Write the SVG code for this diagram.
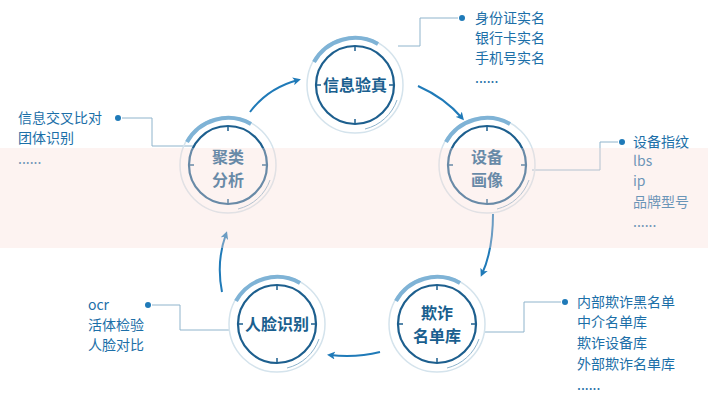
<svg xmlns="http://www.w3.org/2000/svg" width="708" height="400" viewBox="0 0 708 400">
<defs>
<style>
.t{font-family:"Noto Sans CJK SC","Liberation Sans",sans-serif;font-size:14px;fill:#1c6fa8}
.n{font-family:"Noto Sans CJK SC","Liberation Sans",sans-serif;font-size:16px;font-weight:bold;fill:#1a5f8f;text-anchor:middle}
.ln{fill:none;stroke:#8fb4cc;stroke-width:1}
.ar{fill:none;stroke:#1f7ab8;stroke-width:2;marker-end:url(#ah)}
.o{fill:none;stroke:#d4e3ec;stroke-width:1.5}
.m{fill:none;stroke:#1d5f8e;stroke-width:2.2}
.a{fill:none;stroke:#7fb3d6;stroke-width:4}
</style>
<marker id="ah" markerWidth="8" markerHeight="8" refX="5" refY="4" orient="auto" markerUnits="userSpaceOnUse"><path d="M0,0L8,4L0,8L2,4Z" fill="#1f7ab8"/></marker>
<g id="circ">
<circle r="48" class="o" fill="#fff"/>
<path class="a" d="M-41,-23A47,47 0 0 1 23,-41"/>
<path class="ln" d="M10,44A45,45 0 0 0 42,15"/>
<circle r="39" class="m"/>
<path d="M0,-39v5M0,39v-5M-39,0h5M39,0h-5" stroke="#1d5f8e" stroke-width="1.5"/>
</g>
</defs>
<rect width="708" height="400" fill="#fff"/>
<g id="connectors">
<path class="ar" d="M250,112Q268,88 298,80"/>
<path class="ar" d="M418,86Q445,98 462,118"/>
<path class="ar" d="M493,214Q493,250 482,274"/>
<path class="ar" d="M380,352Q356,358 330,355"/>
<path class="ar" d="M222,292Q216,262 226,234"/>
<path class="ln" d="M398,46H420V18H458"/>
<path class="ln" d="M122,118H152V146H195"/>
<path class="ln" d="M618,142H600V170H532"/>
<path class="ln" d="M152,305H180V330H230"/>
<path class="ln" d="M484,332H524V302H561"/>
<g fill="#1f7ab8"><circle cx="462" cy="18" r="3"/><circle cx="118" cy="118" r="3"/><circle cx="622" cy="142" r="3"/><circle cx="148" cy="305" r="3"/><circle cx="565" cy="302" r="3"/></g>
</g>
<g id="n1"><use href="#circ" x="355" y="85"/><text class="n" x="355" y="91">信息验真</text></g>
<g id="n2"><use href="#circ" x="487" y="165"/><text class="n" x="487" y="163">设备</text><text class="n" x="487" y="186">画像</text></g>
<g id="n3"><use href="#circ" x="437" y="324"/><text class="n" x="437" y="319">欺诈</text><text class="n" x="437" y="342">名单库</text></g>
<g id="n4"><use href="#circ" x="277" y="324"/><text class="n" x="277" y="330">人脸识别</text></g>
<g id="n5"><use href="#circ" x="228" y="165"/><text class="n" x="228" y="163">聚类</text><text class="n" x="228" y="186">分析</text></g>
<g id="lists">
<text class="t" x="475" y="23">身份证实名</text><text class="t" x="475" y="43">银行卡实名</text><text class="t" x="475" y="63">手机号实名</text><text class="t" x="475" y="83">......</text>
<text class="t" x="18" y="123">信息交叉比对</text><text class="t" x="18" y="143">团体识别</text><text class="t" x="18" y="164">......</text>
<text class="t" x="633" y="147">设备指纹</text><text class="t" x="633" y="166">lbs</text><text class="t" x="633" y="186">ip</text><text class="t" x="633" y="207">品牌型号</text><text class="t" x="633" y="227">......</text>
<text class="t" x="88" y="310">ocr</text><text class="t" x="88" y="330">活体检验</text><text class="t" x="88" y="350">人脸对比</text>
<text class="t" x="577" y="307">内部欺诈黑名单</text><text class="t" x="577" y="327">中介名单库</text><text class="t" x="577" y="348">欺诈设备库</text><text class="t" x="577" y="369">外部欺诈名单库</text><text class="t" x="577" y="390">......</text>
</g>
<rect x="0" y="148" width="708" height="100" fill="#f8dcd6" opacity="0.35"/>
</svg>
